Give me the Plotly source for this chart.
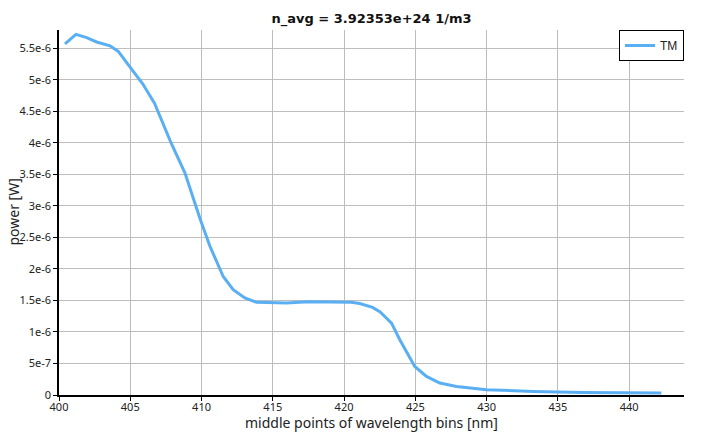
import plotly.graph_objects as go

wavelength_nm = [400.42, 401.19, 401.94, 402.64, 403.58, 404.16, 405.05, 405.86, 406.70,
                 407.88, 408.84, 409.89, 410.59, 411.52, 412.22, 413.04, 413.86, 415.96,
                 417.5, 419.20, 420.50, 421.10, 422.00, 422.51, 423.33, 423.91, 424.38,
                 424.96, 425.78, 426.72, 427.89, 429.99, 433.26, 436.77, 442.26]
power_W = [5.57e-6, 5.72e-6, 5.67e-6, 5.60e-6, 5.54e-6, 5.45e-6, 5.18e-6, 4.94e-6, 4.63e-6,
           3.99e-6, 3.52e-6, 2.80e-6, 2.36e-6, 1.88e-6, 1.67e-6, 1.54e-6, 1.47e-6, 1.46e-6,
           1.48e-6, 1.48e-6, 1.47e-6, 1.45e-6, 1.39e-6, 1.32e-6, 1.14e-6, 0.876e-6, 0.69e-6,
           0.453e-6, 0.295e-6, 0.19e-6, 0.136e-6, 0.084e-6, 0.057e-6, 0.041e-6, 0.032e-6]

x_ticks = [400, 405, 410, 415, 420, 425, 430, 435, 440]
y_ticks = [0, 0.5e-6, 1e-6, 1.5e-6, 2e-6, 2.5e-6, 3e-6, 3.5e-6, 4e-6, 4.5e-6, 5e-6, 5.5e-6]
y_tick_labels = ["0", "5e-7", "1e-6", "1.5e-6", "2e-6", "2.5e-6", "3e-6", "3.5e-6",
                 "4e-6", "4.5e-6", "5e-6", "5.5e-6"]

x_title = "middle points of wavelength bins [nm]"
y_title = "power [W]"

fig = go.Figure()
fig.add_trace(go.Scatter(x=wavelength_nm, y=power_W, mode="lines", name="TM",
                         line=dict(color="#5aaff2", width=3)))

fig.update_layout(
    width=715, height=435,
    margin=dict(l=59, r=31, t=30, b=40, autoexpand=False),
    paper_bgcolor="white", plot_bgcolor="white",
    font=dict(family="Noto Sans", size=11, color="#222"),
    title=dict(text="<b>n_avg = 3.92353e+24 1/m3</b>", x=(59 + 312.5) / 715, xanchor="center",
               y=1 - 18.5 / 435, yanchor="middle",
               font=dict(family="DejaVu Sans", size=13, color="#111")),
    showlegend=True,
    legend=dict(x=1, xanchor="right", y=1, yanchor="top", bordercolor="black", borderwidth=1,
                bgcolor="white", font=dict(family="Liberation Sans", size=12, color="#222"),
                itemwidth=30, tracegroupgap=0),
    xaxis=dict(range=[400, 443.85], tickvals=x_ticks, showgrid=True, gridcolor="#bdbdbd",
               gridwidth=1, showline=True, linecolor="black", linewidth=1.5, ticks="outside",
               ticklen=4, tickcolor="black", zeroline=False, automargin=False,
               ticklabelstandoff=-3),
    yaxis=dict(range=[0, 5.79e-6], tickvals=y_ticks, ticktext=y_tick_labels, showgrid=True,
               gridcolor="#bdbdbd", gridwidth=1, showline=True, linecolor="black", linewidth=1.5,
               ticks="outside", ticklen=4, tickcolor="black", zeroline=False, automargin=False),
    annotations=[
        dict(text=x_title, xref="paper", yref="paper", x=0.5, y=-(422 - 395) / 365,
             xanchor="center", yanchor="middle", showarrow=False,
             font=dict(size=14, color="#222")),
        dict(text=y_title, xref="paper", yref="paper", x=-(59 - 13) / 625, y=0.5,
             xanchor="center", yanchor="middle", textangle=-90, showarrow=False,
             font=dict(size=14, color="#222")),
    ],
)

fig.write_html("out.html")
